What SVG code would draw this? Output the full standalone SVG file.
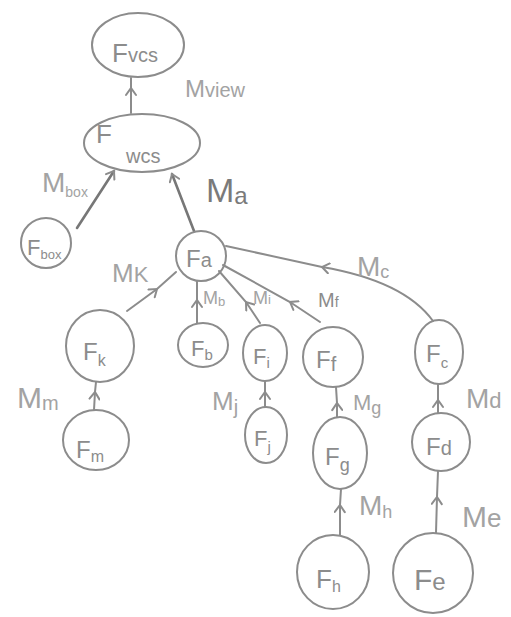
<svg xmlns="http://www.w3.org/2000/svg" width="511" height="617" viewBox="0 0 511 617">
<style>
.n{fill:none;stroke:#8c8c8c;stroke-width:2}
.e{fill:none;stroke:#8c8c8c;stroke-width:2;stroke-linecap:round}
.d{stroke:#777;stroke-width:2.6}
.m{marker-mid:url(#ah)}
.t{font-family:"Liberation Sans",Arial,sans-serif;fill:#8c8c8c}
.l{font-family:"Liberation Sans",Arial,sans-serif;fill:#a3a3a3}
</style>
<defs>
<marker id="ah" viewBox="-10 -6 12 12" markerWidth="12" markerHeight="12" refX="0" refY="0" orient="auto" markerUnits="userSpaceOnUse">
<path d="M-7,-5 L0,0 L-7,5" fill="none" stroke="#8c8c8c" stroke-width="2" stroke-linecap="round"/>
</marker>
</defs>
<rect width="511" height="617" fill="#fff"/>
<g id="connectors">
<path class="e m" d="M131 113 L131 88 L131 78"/>
<path class="e d" d="M77 228 L114 171" marker-end="url(#ah)"/>
<path class="e d" d="M194 231 L172 174" marker-end="url(#ah)"/>
<path class="e m" d="M127 311 L157 289 L176 272"/>
<path class="e m" d="M94 410 L95 392 L96 382"/>
<path class="e m" d="M197 323 L197 300 L197 281"/>
<path class="e m" d="M260 323 L246 302 L219 271"/>
<path class="e m" d="M320 322 L290 302 L223 265"/>
<path class="e m" d="M433 321 Q404 281 322 267 L226 246"/>
<path class="e m" d="M265 407 L265 392 L265 381"/>
<path class="e m" d="M337 417 L337 403 L336 387"/>
<path class="e m" d="M340 535 L340 505 L341 489"/>
<path class="e m" d="M438 413 L438 400 L438 384"/>
<path class="e m" d="M436 533 L437 497 L438 471"/>
</g>
<g id="Fvcs"><ellipse class="n" cx="138" cy="45" rx="46" ry="32"/><text class="t" x="112" y="62" font-size="26">F<tspan font-size="20">vcs</tspan></text></g>
<g id="Fwcs"><ellipse class="n" cx="142" cy="143" rx="58" ry="29"/><text class="t" x="96" y="143" font-size="26">F</text><text class="t" x="126" y="163" font-size="20">wcs</text></g>
<g id="Fbox"><circle class="n" cx="46" cy="243" r="25"/><text class="t" x="27" y="255" font-size="22">F<tspan font-size="13" dy="4">box</tspan></text></g>
<g id="Fa"><circle class="n" cx="201" cy="256" r="25"/><text class="t" x="186" y="267" font-size="24">F<tspan font-size="20">a</tspan></text></g>
<g id="Fk"><ellipse class="n" cx="100" cy="346" rx="34" ry="36"/><text class="t" x="83" y="360" font-size="24">F<tspan font-size="16" dy="6">k</tspan></text></g>
<g id="Fm"><ellipse class="n" cx="96" cy="440" rx="33" ry="30"/><text class="t" x="76" y="458" font-size="24">F<tspan font-size="16" dy="4">m</tspan></text></g>
<g id="Fb"><ellipse class="n" cx="203" cy="345" rx="25" ry="22"/><text class="t" x="191" y="356" font-size="22">F<tspan font-size="15" dy="4">b</tspan></text></g>
<g id="Fi"><ellipse class="n" cx="265" cy="353" rx="22" ry="28"/><text class="t" x="253" y="364" font-size="22">F<tspan font-size="15" dy="4">i</tspan></text></g>
<g id="Fj"><ellipse class="n" cx="266" cy="435" rx="21" ry="28"/><text class="t" x="254" y="446" font-size="22">F<tspan font-size="15" dy="6">j</tspan></text></g>
<g id="Ff"><ellipse class="n" cx="333" cy="357" rx="30" ry="30"/><text class="t" x="316" y="368" font-size="24">F<tspan font-size="20" dy="3">f</tspan></text></g>
<g id="Fc"><ellipse class="n" cx="439" cy="352" rx="24" ry="32"/><text class="t" x="426" y="362" font-size="24">F<tspan font-size="15" dy="6">c</tspan></text></g>
<g id="Fg"><ellipse class="n" cx="340" cy="453" rx="27" ry="36"/><text class="t" x="325" y="465" font-size="24">F<tspan font-size="18" dy="6">g</tspan></text></g>
<g id="Fd"><ellipse class="n" cx="441" cy="442" rx="29" ry="29"/><text class="t" x="426" y="455" font-size="24">F<tspan font-size="20">d</tspan></text></g>
<g id="Fh"><ellipse class="n" cx="333" cy="572" rx="36" ry="37"/><text class="t" x="316" y="588" font-size="26">F<tspan font-size="16" dy="4">h</tspan></text></g>
<g id="Fe"><ellipse class="n" cx="433" cy="573" rx="40" ry="40"/><text class="t" x="414" y="590" font-size="30">F<tspan font-size="24">e</tspan></text></g>
<g id="labels">
<text class="l" x="185" y="97" font-size="24">M<tspan font-size="20">view</tspan></text>
<text class="l" x="42" y="192" font-size="28">M<tspan font-size="14" dy="5">box</tspan></text>
<text class="t" x="206" y="202" font-size="34" style="fill:#7a7a7a">M<tspan font-size="24" dy="2">a</tspan></text>
<text class="l" x="112" y="282" font-size="26">M<tspan font-size="22">K</tspan></text>
<text class="l" x="203" y="304" font-size="18">M<tspan font-size="13" dy="2">b</tspan></text>
<text class="l" x="253" y="304" font-size="18">M<tspan font-size="13">i</tspan></text>
<text class="t" x="318" y="307" font-size="20">M<tspan font-size="14">f</tspan></text>
<text class="l" x="357" y="276" font-size="28">M<tspan font-size="18" dy="2">c</tspan></text>
<text class="l" x="17" y="408" font-size="30">M<tspan font-size="20" dy="2">m</tspan></text>
<text class="l" x="212" y="410" font-size="26">M<tspan font-size="20" dy="4">j</tspan></text>
<text class="l" x="353" y="410" font-size="22">M<tspan font-size="18" dy="4">g</tspan></text>
<text class="l" x="466" y="408" font-size="28">M<tspan font-size="22">d</tspan></text>
<text class="l" x="359" y="515" font-size="28">M<tspan font-size="18" dy="3">h</tspan></text>
<text class="l" x="462" y="527" font-size="30">M<tspan font-size="26">e</tspan></text>
</g>
</svg>
